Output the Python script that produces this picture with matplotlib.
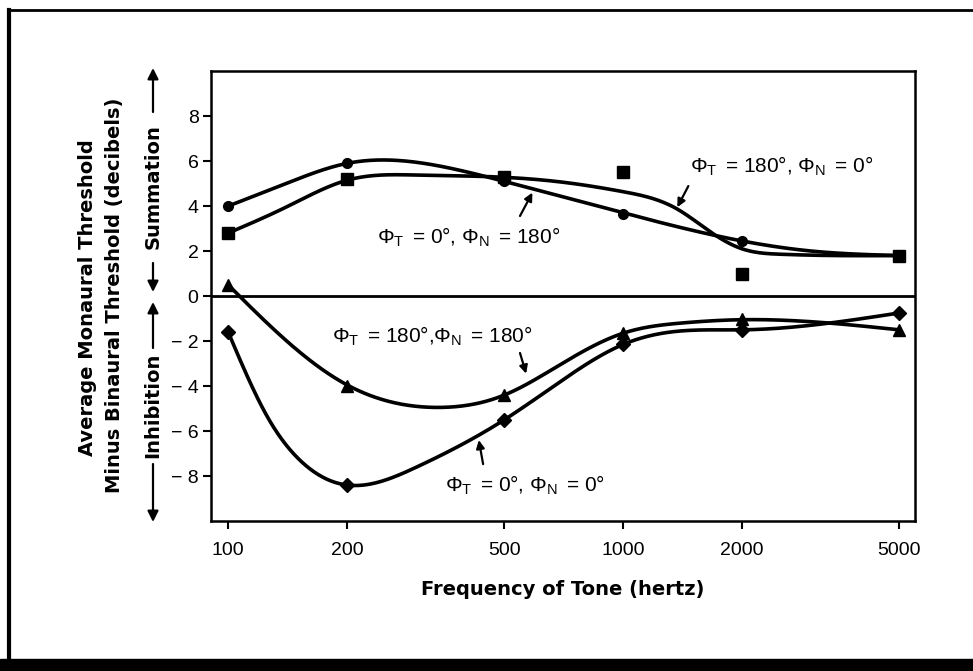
import numpy as np
import matplotlib
matplotlib.use('Agg')
import matplotlib.pyplot as plt
from matplotlib.lines import Line2D
from matplotlib.patches import Rectangle, FancyArrowPatch

plt.rcParams['font.family'] = ['Liberation Sans', 'DejaVu Sans']
plt.rcParams['mathtext.fontset'] = 'custom'
plt.rcParams['mathtext.rm'] = 'Liberation Sans'
plt.rcParams['mathtext.it'] = 'Liberation Sans'

# measured points (hertz, dB)
freqs = [100, 200, 500, 1000, 2000, 5000]
circ_y = [4.0, 5.9, 5.1, 3.65, 2.45, 1.8]       # phiT=0, phiN=180
sq_y = [2.8, 5.2, 5.3, 5.5, 1.0, 1.8]           # phiT=180, phiN=0
tri_y = [0.5, -4.0, -4.4, -1.65, -1.0, -1.5]    # phiT=180, phiN=180
dia_y = [-1.6, -8.4, -5.5, -2.15, -1.5, -0.75]  # phiT=0, phiN=0

# hand drawn fitted curves
circ_cx = [100, 140, 200, 250, 350, 500, 1000, 2000, 3000, 5000]
circ_cy = [4.0, 5.0, 5.9, 6.05, 5.75, 5.1, 3.7, 2.45, 2.0, 1.8]
sq_cx = [100, 140, 200, 300, 500, 720, 875, 1000, 1370, 1680, 2000, 2500, 3500, 5000]
sq_cy = [2.8, 3.95, 5.15, 5.38, 5.28, 5.04, 4.82, 4.64, 3.87, 2.8, 2.1, 1.86, 1.8, 1.8]
tri_cx = [100, 145, 200, 340, 500, 700, 1000, 1400, 2000, 5000]
tri_cy = [0.5, -2.2, -3.95, -4.95, -4.4, -3.0, -1.65, -1.2, -1.05, -1.5]
dia_cx = [100, 126, 150, 200, 300, 500, 700, 1000, 1400, 2000, 5000]
dia_cy = [-1.6, -5.4, -7.2, -8.4, -7.6, -5.5, -3.75, -2.15, -1.55, -1.5, -0.75]


def smooth(xk, yk, xs):
    # natural cubic spline through the knots, in log-frequency
    x = np.log10(np.asarray(xk, float))
    y = np.asarray(yk, float)
    n = len(x)
    h = np.diff(x)
    A = np.zeros((n, n))
    b = np.zeros(n)
    A[0, 0] = A[-1, -1] = 1
    for i in range(1, n - 1):
        A[i, i - 1] = h[i - 1]
        A[i, i] = 2 * (h[i - 1] + h[i])
        A[i, i + 1] = h[i]
        b[i] = 6 * ((y[i + 1] - y[i]) / h[i] - (y[i] - y[i - 1]) / h[i - 1])
    M = np.linalg.solve(A, b)
    xs = np.log10(xs)
    i = np.clip(np.searchsorted(x, xs) - 1, 0, n - 2)
    a = x[i + 1] - xs
    c = xs - x[i]
    return (M[i] * a**3 / (6 * h[i]) + M[i + 1] * c**3 / (6 * h[i])
            + (y[i] / h[i] - M[i] * h[i] / 6) * a + (y[i + 1] / h[i] - M[i + 1] * h[i] / 6) * c)


fig = plt.figure(figsize=(9.73, 6.71), dpi=100)
ax = fig.add_axes([0.2169, 0.2235, 0.7235, 0.6705])

xs = np.logspace(2, np.log10(5000), 500)
lw = 2.6
ax.plot(xs, smooth(circ_cx, circ_cy, xs), 'k-', lw=lw)
ax.plot(xs, smooth(sq_cx, sq_cy, xs), 'k-', lw=lw)
ax.plot(xs, smooth(tri_cx, tri_cy, xs), 'k-', lw=lw)
ax.plot(xs, smooth(dia_cx, dia_cy, xs), 'k-', lw=lw)

ax.plot(freqs, circ_y, 'ko', ms=7, ls='none')
ax.plot(freqs, sq_y, 'ks', ms=8, ls='none')
ax.plot(freqs, tri_y, 'k^', ms=8, ls='none')
ax.plot(freqs, dia_y, 'kD', ms=7, ls='none')

ax.axhline(0, color='k', lw=2)

ax.set_xscale('log')
ax.set_xlim(90.5, 5480)
ax.set_ylim(-10, 10)
ax.set_xticks(freqs)
ax.set_xticklabels([str(f) for f in freqs])
ax.xaxis.set_minor_locator(matplotlib.ticker.NullLocator())
yt = [-8, -6, -4, -2, 0, 2, 4, 6, 8]
ax.set_yticks(yt)
ax.set_yticklabels([('\u2212 ' + str(-v)) if v < 0 else str(v) for v in yt])
ax.tick_params(axis='both', direction='out', length=6, width=1.5, labelsize=14, colors='k')
ax.tick_params(axis='x', pad=9)
ax.tick_params(axis='y', pad=3)
for s in ax.spines.values():
    s.set_linewidth(1.8)

bold = dict(family='DejaVu Sans', fontweight='bold', fontsize=14)
ax.set_xlabel('Frequency of Tone (hertz)', labelpad=15, **bold)

# curve labels
tk = dict(fontsize=15, color='k', va='center', ha='left')
ax.text(238, 2.6, r'$\Phi_{\rm T}\,$ = 0°, $\Phi_{\rm N}\,$ = 180°', **tk)
ax.text(1479, 5.75, r'$\Phi_{\rm T}\,$ = 180°, $\Phi_{\rm N}\,$ = 0°', **tk)
ax.text(183, -1.8, r'$\Phi_{\rm T}\,$ = 180°,$\Phi_{\rm N}\,$ = 180°', **tk)
ax.text(354, -8.4, r'$\Phi_{\rm T}\,$ = 0°, $\Phi_{\rm N}\,$ = 0°', **tk)

ap = dict(arrowstyle='-|>', lw=1.6, color='k', mutation_scale=12, shrinkA=0, shrinkB=0)
ax.annotate('', xy=(589, 4.6), xytext=(548, 3.56), arrowprops=ap)
ax.annotate('', xy=(1371, 3.95), xytext=(1462, 4.89), arrowprops=ap)
ax.annotate('', xy=(568, -3.45), xytext=(548, -2.53), arrowprops=ap)
ax.annotate('', xy=(431, -6.4), xytext=(442, -7.47), arrowprops=ap)

# y axis titles
fig.text(88 / 973, 1 - 298 / 671, 'Average Monaural Threshold', rotation=90,
         ha='center', va='center', **bold)
fig.text(115 / 973, 1 - 295 / 671, 'Minus Binaural Threshold (decibels)', rotation=90,
         ha='center', va='center', **bold)
fig.text(153 / 973, 1 - 187 / 671, 'Summation', rotation=90,
         ha='center', va='center', **bold)
fig.text(153 / 973, 1 - 405 / 671, 'Inhibition', rotation=90,
         ha='center', va='center', **bold)

fap = dict(arrowstyle='-|>', lw=1.6, color='k', mutation_scale=16, shrinkA=0, shrinkB=0)
def fig_arrow(x, y0, y1):
    fig.add_artist(FancyArrowPatch((x / 973, 1 - y0 / 671), (x / 973, 1 - y1 / 671),
                                   transform=fig.transFigure, **fap))

fig_arrow(153, 112, 68)
fig_arrow(153, 263, 292)
fig_arrow(153, 348, 302)
fig_arrow(153, 464, 522)

# outer frame
fig.add_artist(Line2D([9 / 973, 9 / 973], [1 - 10 / 671, 11 / 671], transform=fig.transFigure, color='k', lw=3))
fig.add_artist(Line2D([9 / 973, 1], [1 - 10 / 671, 1 - 10 / 671], transform=fig.transFigure, color='k', lw=2))
fig.add_artist(Rectangle((0, 0), 1, 12 / 671, transform=fig.transFigure, color='k'))

fig.savefig('out.png', dpi=100)
